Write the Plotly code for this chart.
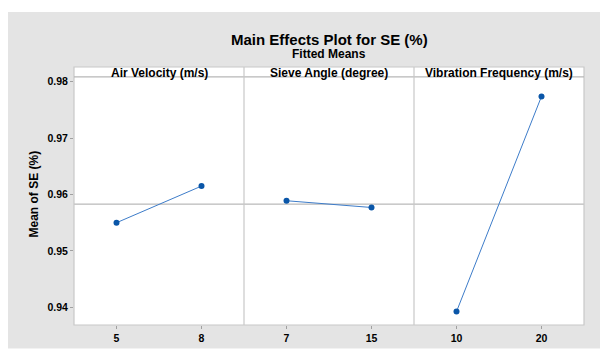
import plotly.graph_objects as go

# ---- data ----
factors = ["Air Velocity (m/s)", "Sieve Angle (degree)", "Vibration Frequency (m/s)"]
levels = [["5", "8"], ["7", "15"], ["10", "20"]]
means = [[0.9550, 0.9615], [0.9589, 0.9577], [0.93925, 0.9774]]
overall_mean = 0.9583
y_ticks = [0.94, 0.95, 0.96, 0.97, 0.98]
y_ticktext = ["0.94", "0.95", "0.96", "0.97", "0.98"]

# page body has an 8px margin; figure coordinates are screen coordinates minus 8
OFF = 8
W, H = 600, 348
L, R, T, B = 74 - OFF, 24, 67 - OFF, 26
pw, ph = W - L - R, H - T - B
header_px = 10
ytop = 1 - header_px / ph

FONT = "Liberation Sans"
grid_col = "#c8c8c8"

fig = go.Figure()
n = len(factors)
for i in range(n):
    xa = "x" if i == 0 else f"x{i+1}"
    ya = "y" if i == 0 else f"y{i+1}"
    fig.add_trace(go.Scatter(
        x=[0, 1], y=means[i], xaxis=xa, yaxis=ya, mode="lines+markers",
        line=dict(color="#3d7cc9", width=1),
        marker=dict(color="#0a56a8", size=6),
        showlegend=False, hoverinfo="skip"))
    d0, d1 = i / n, (i + 1) / n
    xkey = "xaxis" if i == 0 else f"xaxis{i+1}"
    ykey = "yaxis" if i == 0 else f"yaxis{i+1}"
    fig.update_layout(**{
        xkey: dict(domain=[d0, d1], range=[-0.5, 1.5], tickvals=[0, 1], ticktext=levels[i],
                   anchor=ya, showgrid=False, zeroline=False, showline=False,
                   ticks="outside", ticklen=3, tickcolor="#a0a0a0",
                   tickfont=dict(family=FONT, size=10.5, color="black", weight="bold"), fixedrange=True),
        ykey: dict(domain=[0, ytop], range=[0.93687, 0.98087], anchor=xa,
                   showgrid=False, zeroline=False, showline=False,
                   tickvals=y_ticks, ticktext=y_ticktext,
                   showticklabels=(i == 0), ticks="outside" if i == 0 else "", ticklen=3,
                   tickcolor="#a0a0a0",
                   tickfont=dict(family=FONT, size=10.5, color="black", weight="bold")),
    })
    if i > 0:
        fig.layout[ykey].matches = "y"

def px2x(px):
    return (px - OFF - L) / pw

def py2y(py):
    return (T + ph - (py - OFF)) / ph

shapes = []
# white strips outside the gray panel (top and bottom)
shapes.append(dict(type="rect", xref="paper", yref="paper", layer="below",
                   x0=px2x(0), x1=px2x(620), y0=py2y(11), y1=py2y(0),
                   fillcolor="white", line=dict(width=0)))
shapes.append(dict(type="rect", xref="paper", yref="paper", layer="below",
                   x0=px2x(0), x1=px2x(620), y0=py2y(370), y1=py2y(354),
                   fillcolor="white", line=dict(width=0)))
# header strip white
shapes.append(dict(type="rect", xref="paper", yref="paper", layer="below",
                   x0=0, x1=1, y0=ytop, y1=1, fillcolor="white", line=dict(width=0)))
# mean reference line across panels
for i in range(n):
    xa = "x" if i == 0 else f"x{i+1}"
    ya = "y" if i == 0 else f"y{i+1}"
    shapes.append(dict(type="line", xref=f"{xa} domain", yref=ya, x0=0, x1=1,
                       y0=overall_mean, y1=overall_mean, layer="below",
                       line=dict(color="#a8a8a8", width=1)))
# outer border
shapes.append(dict(type="rect", xref="paper", yref="paper", x0=0, x1=1, y0=0, y1=1,
                   line=dict(color=grid_col, width=1.2)))
# header bottom line
shapes.append(dict(type="line", xref="paper", yref="paper", x0=0, x1=1, y0=ytop, y1=ytop,
                   line=dict(color="#b8b8b8", width=1.2)))
# panel dividers
for i in range(1, n):
    shapes.append(dict(type="line", xref="paper", yref="paper", x0=i / n, x1=i / n, y0=0, y1=1,
                       line=dict(color=grid_col, width=1.2)))

annotations = []
for i, f in enumerate(factors):
    annotations.append(dict(text=f, xref="paper", yref="paper", x=(i + 0.5) / n, y=py2y(73),
                            showarrow=False, xanchor="center", yanchor="middle",
                            font=dict(family=FONT, size=12, color="black", weight="bold")))
annotations.append(dict(text="Main Effects Plot for SE (%)", xref="paper", yref="paper",
                        x=0.5, y=py2y(39), showarrow=False, xanchor="center", yanchor="middle",
                        font=dict(family=FONT, size=15, color="black", weight="bold")))
annotations.append(dict(text="Fitted Means", xref="paper", yref="paper",
                        x=0.5, y=py2y(54), showarrow=False, xanchor="center", yanchor="middle",
                        font=dict(family=FONT, size=12, color="black", weight="bold")))
annotations.append(dict(text="Mean of SE (%)", xref="paper", yref="paper",
                        x=px2x(34), y=py2y(197), showarrow=False, textangle=-90,
                        xanchor="center", yanchor="middle",
                        font=dict(family=FONT, size=12, color="black", weight="bold")))

fig.update_layout(width=W, height=H, margin=dict(l=L, r=R, t=T, b=B),
                  paper_bgcolor="#e4e4e4", plot_bgcolor="white",
                  shapes=shapes, annotations=annotations, showlegend=False)

fig.write_html("out.html")
